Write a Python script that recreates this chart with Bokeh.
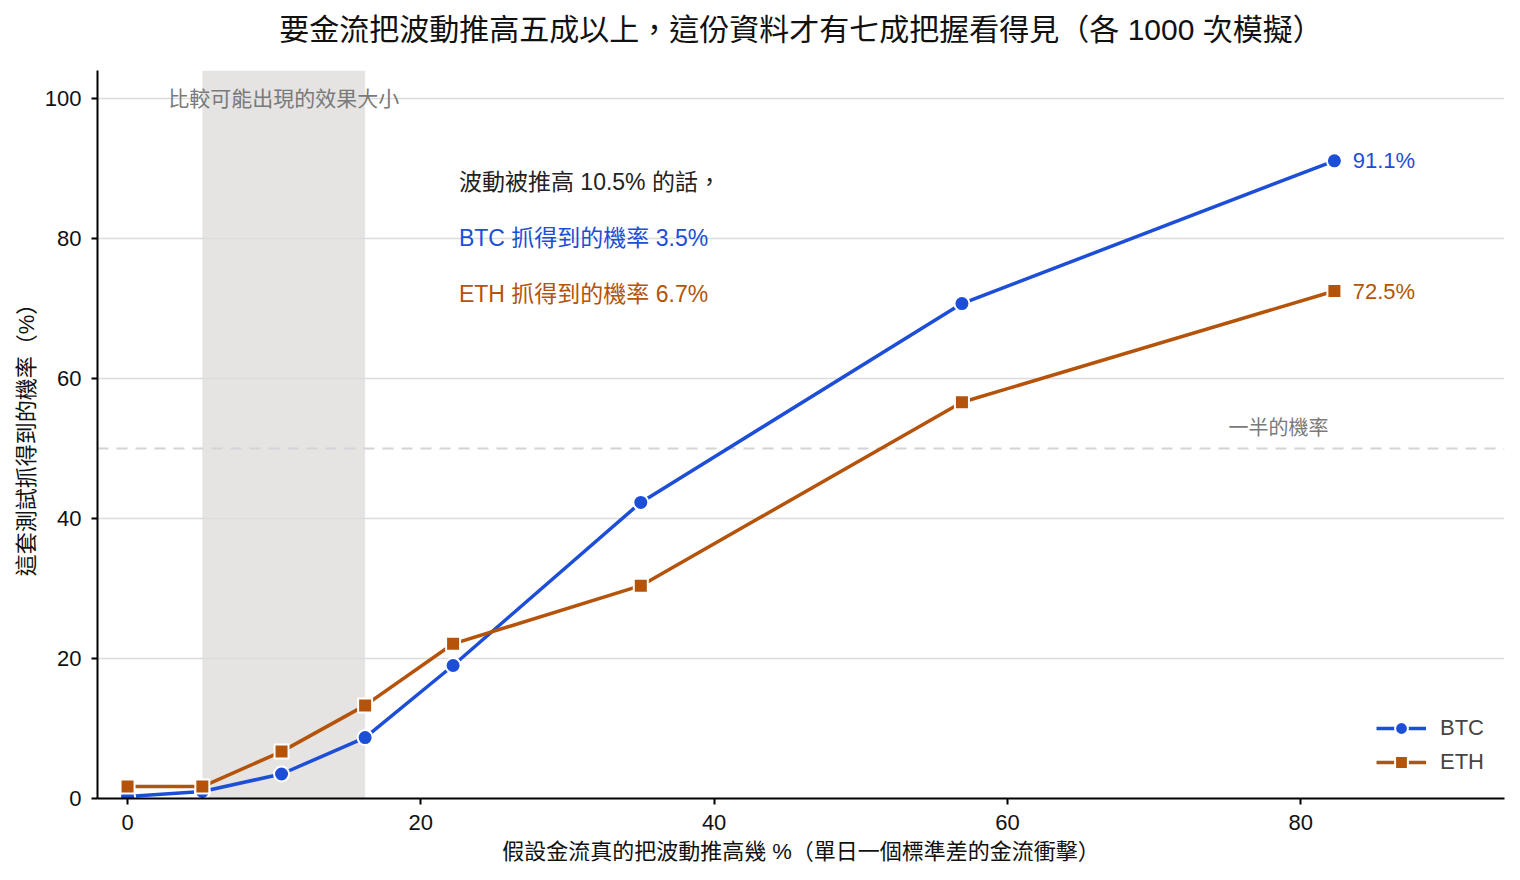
from bokeh.plotting import figure
from bokeh.models import Range1d, BoxAnnotation, Span, Label, FixedTicker, Title
from bokeh.embed import file_html
from bokeh.resources import INLINE

# 假設的波動推高幅度 (%)，以及各自的偵測機率 (%)
shock = [0, 5.1, 10.5, 16.2, 22.2, 35.0, 56.9, 82.3]
btc = [0.3, 1.0, 3.5, 8.7, 19.0, 42.3, 70.7, 91.1]
eth = [1.7, 1.7, 6.7, 13.3, 22.1, 30.4, 56.6, 72.5]

likely_lo, likely_hi = 5.1, 16.2
focus = 10.5
x_ticks = [0, 20, 40, 60, 80]
y_ticks = [0, 20, 40, 60, 80, 100]

FONT = "'Liberation Sans', 'Noto Sans CJK TC', sans-serif"
BLUE = "#1d4ed8"
ORANGE = "#b45309"
GRAY_TXT = "#7a7a7a"

p = figure(width=1512, height=872,
           x_range=Range1d(-2.05, 93.9), y_range=Range1d(0, 104),
           output_backend="svg", toolbar_location=None,
           min_border_left=97, min_border_right=8,
           min_border_top=70, min_border_bottom=74)

p.title.text = "要金流把波動推高五成以上，這份資料才有七成把握看得見（各 1000 次模擬）"
p.title.align = "center"
p.title.vertical_align = "top"
p.title.text_font = FONT
p.title.text_font_size = "30px"
p.title.text_font_style = "normal"
p.title.text_color = "#111111"
p.title.standoff = 20
# 空白列，把標題往上推
p.add_layout(Title(text=" ", text_font_size="10px", standoff=0), "above")

p.outline_line_color = None
p.xgrid.visible = False
p.ygrid.grid_line_color = "#dcdcdc"
p.ygrid.grid_line_width = 1.5
p.ygrid.ticker = FixedTicker(ticks=y_ticks)

for ax in (p.xaxis, p.yaxis):
    ax.axis_line_width = 2
    ax.major_tick_line_width = 2
    ax.major_tick_out = 6
    ax.major_tick_in = 0
    ax.minor_tick_line_color = None
    ax.major_label_text_font = FONT
    ax.major_label_text_font_size = "22px"
    ax.major_label_text_color = "#111111"
    ax.axis_label_text_font = FONT
    ax.axis_label_text_font_size = "22px"
    ax.axis_label_text_font_style = "normal"
    ax.axis_label_text_color = "#111111"

p.xaxis.ticker = FixedTicker(ticks=x_ticks)
p.yaxis.ticker = FixedTicker(ticks=y_ticks)
p.xaxis.axis_label = "假設金流真的把波動推高幾 %（單日一個標準差的金流衝擊）"
p.yaxis.axis_label = "這套測試抓得到的機率（%）"
p.xaxis.major_label_standoff = 10
p.yaxis.major_label_standoff = 10
p.xaxis.axis_label_standoff = 6
p.yaxis.axis_label_standoff = 3

p.add_layout(BoxAnnotation(left=likely_lo, right=likely_hi, fill_color="#e5e4e2",
                           fill_alpha=1, line_color=None, level="image"))
p.add_layout(Span(location=50, dimension="width", line_color="#d4d4d8",
                  line_width=2, line_dash="11 8", level="underlay"))

p.line(shock, btc, line_color=BLUE, line_width=3.5, legend_label="BTC")
p.scatter(shock, btc, marker="circle", size=15, fill_color=BLUE,
          line_color="white", line_width=2, legend_label="BTC")
p.line(shock, eth, line_color=ORANGE, line_width=3.5, legend_label="ETH")
p.scatter(shock, eth, marker="square", size=14, fill_color=ORANGE,
          line_color="white", line_width=2, legend_label="ETH")

i = shock.index(focus)
notes = [
    (f"波動被推高 {focus}% 的話，", "#222222", 88.1),
    (f"BTC 抓得到的機率 {btc[i]}%", BLUE, 80.1),
    (f"ETH 抓得到的機率 {eth[i]}%", ORANGE, 72.1),
]
for txt, col, yy in notes:
    p.add_layout(Label(x=22.6, y=yy, text=txt, text_color=col, text_font=FONT,
                       text_font_size="23px", text_baseline="middle"))

p.add_layout(Label(x=shock[-1] + 1.25, y=btc[-1], text=f"{btc[-1]}%", text_color=BLUE,
                   text_font=FONT, text_font_size="22px", text_baseline="middle"))
p.add_layout(Label(x=shock[-1] + 1.25, y=eth[-1], text=f"{eth[-1]}%", text_color=ORANGE,
                   text_font=FONT, text_font_size="22px", text_baseline="middle"))

p.add_layout(Label(x=(likely_lo + likely_hi) / 2, y=100, text="比較可能出現的效果大小",
                   text_color=GRAY_TXT, text_font=FONT, text_font_size="21px",
                   text_align="center", text_baseline="middle"))
p.add_layout(Label(x=81.9, y=53, text="一半的機率", text_color=GRAY_TXT,
                   text_font=FONT, text_font_size="20px",
                   text_align="right", text_baseline="middle"))

p.legend.location = "bottom_right"
p.legend.border_line_color = None
p.legend.background_fill_alpha = 0
p.legend.label_text_font = FONT
p.legend.label_text_font_size = "22px"
p.legend.glyph_width = 50
p.legend.glyph_height = 32
p.legend.label_standoff = 14
p.legend.spacing = 2
p.legend.margin = 20
p.legend.padding = 6

open("out.html", "w").write(file_html(p, INLINE))
